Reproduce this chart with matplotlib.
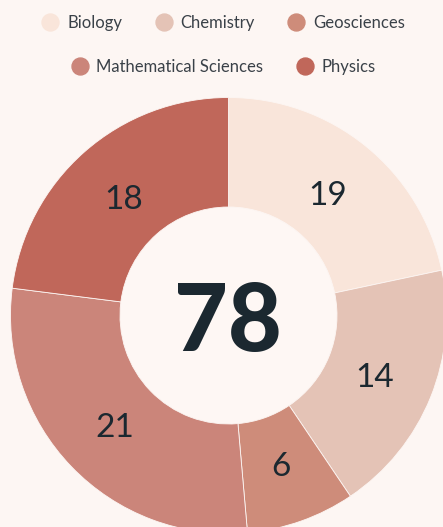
import numpy as np
import matplotlib.pyplot as plt
from matplotlib.lines import Line2D

categories = ["Biology", "Chemistry", "Geosciences", "Mathematical Sciences", "Physics"]
values = [19, 14, 6, 21, 18]
# slice sweep (degrees) as drawn in the picture
arc_deg = [78, 68, 29, 102.2, 82.8]
colors = ["#F9E5DA", "#E4C3B6", "#CE8C7A", "#CB857A", "#C0675A"]

bg = "#FDF6F3"
dark = "#1B2830"

W, H = 443, 527
fig = plt.figure(figsize=(W / 100, H / 100), dpi=100, facecolor=bg)
ax = fig.add_axes([0, 0, 1, 1])

cx, cy, r_out, r_in = 228.5, H - 315.5, 218, 108.5
ax.pie(arc_deg, colors=colors, startangle=90, counterclock=False,
       center=(cx, cy), radius=r_out, frame=True,
       wedgeprops=dict(width=r_out - r_in, edgecolor=bg, linewidth=0.6))
ax.set_xlim(0, W)
ax.set_ylim(0, H)
ax.set_aspect("equal")
ax.axis("off")

ax.add_patch(plt.Circle((cx, cy), r_in, color="#FEF7F4", zorder=0))

# value labels in each ring slice
start = 90
r_lab = 158
for v, d in zip(values, arc_deg):
    a = np.deg2rad(start - d / 2)
    ax.text(cx + r_lab * np.cos(a), cy + r_lab * np.sin(a), str(v), ha="center",
            va="center_baseline", fontsize=24, color=dark, family="Lato")
    start -= d

ax.text(cx - 1, cy - 8.5, str(sum(values)), ha="center", va="center", fontsize=67,
        fontweight="black", family="Lato", color=dark)

def handles(idx):
    return [Line2D([], [], marker="o", linestyle="none", markersize=12.2,
                   markerfacecolor=colors[i], markeredgecolor=colors[i]) for i in idx]

for idx, y in [([0, 1, 2], 1 - 23 / H), ([3, 4], 1 - 67 / H)]:
    leg = fig.legend(handles(idx), [categories[i] for i in idx], loc="center",
                     bbox_to_anchor=(223.5 / W, y), ncol=len(idx), frameon=False,
                     handlelength=1.0, handletextpad=0.5, columnspacing=2.0,
                     prop=dict(family="Lato", size=12))
    for t in leg.get_texts():
        t.set_color("#3A4148")

fig.savefig("out.png", dpi=100, facecolor=bg)
